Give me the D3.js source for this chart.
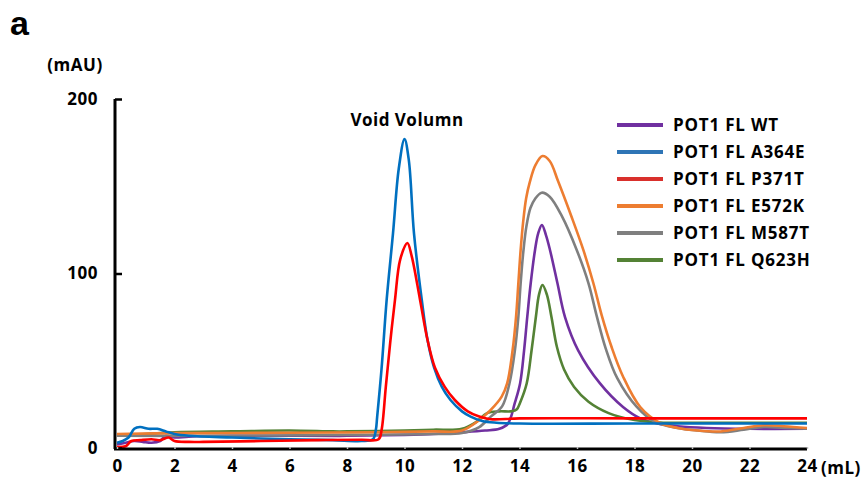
<!DOCTYPE html>
<html>
<head>
<meta charset="utf-8">
<script src="https://cdn.jsdelivr.net/npm/d3@7"></script>
<style>
  body { margin: 0; background: #fff; }
  svg { display: block; font-family: "Open Sans", Lato, sans-serif; font-weight: 700; }
</style>
</head>
<body>
<div id="chart"></div>
<script>
// series names + colours (legend order)
const seriesNames = ["POT1 FL WT", "POT1 FL A364E", "POT1 FL P371T", "POT1 FL E572K", "POT1 FL M587T", "POT1 FL Q623H"];
const seriesColors = ["#7030A0", "#0070C0", "#FF0000", "#ED7D31", "#7F7F7F", "#548235"];
const legendColors = ["#7030A0", "#2E75B6", "#D9302C", "#ED7D31", "#7F7F7F", "#548235"];

const xTicks = [0, 2, 4, 6, 8, 10, 12, 14, 16, 18, 20, 22, 24];
const yTicks = [0, 100, 200];

// [elution volume (mL), absorbance (mAU)]
const wt = [[0,2],[0.3,3],[0.6,4],[0.9,3.5],[1.2,3],[1.5,4],[1.7,7],[2,6],[2.5,6.5],[4,7],[6,7],[8,7],[10,7.5],[11,8],[12,9],[12.8,10],[13.3,11],[13.6,14],[13.84,26],[14.02,37],[14.16,56],[14.27,75.2],[14.39,94.4],[14.54,113.5],[14.65,123],[14.78,127.8],[14.92,122],[15.06,113.5],[15.32,94.4],[15.58,75.2],[16.04,56],[16.8,37],[17.6,23.5],[18.2,17],[18.8,14],[19.5,12.5],[20.5,11.5],[22,11],[24,11]];
const a364e = [[0,3],[0.2,4],[0.4,6],[0.6,11],[0.8,12],[1.1,11],[1.4,11],[1.7,9.5],[2,8],[2.5,7],[4,6],[6,5],[7.5,4.5],[8.5,4],[8.9,5],[9.0,10],[9.05,18],[9.2,45],[9.38,85],[9.6,123],[9.8,160],[10.0,177],[10.15,165],[10.33,123],[10.6,85],[10.8,62],[11.03,46],[11.3,35],[11.6,27.5],[12.0,21],[12.3,18],[12.7,15.5],[13.2,14.5],[14,14],[18,14],[24,14]];
const p371t = [[0,0.5],[0.3,1],[0.5,4],[0.8,4.5],[1.2,5],[1.5,4.5],[1.8,6],[2,4],[2.5,3.5],[3,3.5],[5,4],[7,4.5],[8.5,4.7],[9.1,5],[9.2,10],[9.35,35],[9.5,60],[9.67,85],[9.85,108],[10.1,117.5],[10.25,110],[10.54,85],[10.8,62],[11.06,46],[11.4,35],[11.75,27.5],[12.2,21],[12.6,18],[13.0,16.5],[14,17],[18,17],[24,17]];
const e572k = [[0,8],[2,8.5],[6,8.7],[9,9],[11,9.5],[12,10],[12.6,16],[13.0,21.8],[13.38,29.4],[13.57,37],[13.76,56],[13.88,75.2],[13.96,94.4],[14.04,113.5],[14.13,130],[14.23,143],[14.36,152.5],[14.55,162],[14.8,167.3],[15.05,164.5],[15.34,153],[15.81,132.5],[16.22,113.5],[16.57,94.4],[16.86,76],[17.2,58],[17.6,41],[18.2,23.5],[18.9,14.3],[19.5,11.5],[20.2,10],[21,9.5],[21.8,11.5],[22.5,13],[23.2,12.5],[24,11.5]];
const m587t = [[0,7],[3,7],[8,7.5],[11,8],[12,8.6],[12.6,12],[13.0,18],[13.4,24],[13.65,37],[13.84,56],[13.96,75.2],[14.04,94.4],[14.13,112],[14.24,127],[14.38,137.5],[14.55,143],[14.77,146.3],[15.05,144],[15.47,133],[15.99,113.5],[16.4,94.4],[16.68,76],[17.0,57],[17.4,40],[18.08,23.5],[18.7,15],[19.5,11.5],[20.2,10],[21,9],[21.8,10.5],[22.5,12],[23.2,11.5],[24,11]];
const q623h = [[0,7],[1,8],[2,9],[4,9.5],[6,10],[7.5,9.5],[8,9.5],[10,10],[11,10.5],[12,11],[12.5,15],[12.87,20],[13.3,21],[13.7,21],[13.9,22],[14.02,26],[14.25,37],[14.42,56],[14.57,75.2],[14.68,88],[14.8,93.4],[14.95,88],[15.11,75.2],[15.3,58],[15.55,45],[15.9,35],[16.4,26.5],[17.1,20],[18,16],[19,14.5],[20,14.5],[24,14.5]];

const seriesData = [wt, a364e, p371t, e572k, m587t, q623h];
// draw order: back to front
const drawOrder = [0, 5, 4, 3, 1, 2];

const svg = d3.select("#chart")
  .append("svg")
    .attr("width", 866)
    .attr("height", 484)
    .style("letter-spacing", "0.5px");

const x = d3.scaleLinear().domain([0, 24]).range([117, 807]);
const y = d3.scaleLinear().domain([0, 200]).range([448, 99]);

const line = d3.line()
  .x(d => x(d[0]))
  .y(d => y(d[1]))
  .curve(d3.curveCatmullRom.alpha(0.5));

// curves
svg.append("g")
  .selectAll("path")
  .data(drawOrder)
  .join("path")
    .attr("d", i => line(seriesData[i]))
    .attr("fill", "none")
    .attr("stroke", i => seriesColors[i])
    .attr("stroke-width", 2.6)
    .attr("stroke-linejoin", "round");

// y axis
const yAxis = svg.append("g")
  .attr("transform", "translate(115,0)")
  .call(d3.axisLeft(y).tickValues(yTicks).tickSize(-7).tickSizeOuter(0).tickPadding(17));
yAxis.select(".domain").attr("stroke-width", 3).attr("d", `M0,${y(200)}V449`);
yAxis.selectAll(".tick line").attr("stroke-width", 2.5);
yAxis.selectAll("text").attr("font-size", 17).attr("font-weight", 700).attr("fill", "#000")
  .attr("font-family", "'Open Sans', sans-serif");

// x axis
const xAxis = svg.append("g")
  .attr("transform", "translate(0,449)")
  .call(d3.axisBottom(x).tickValues(xTicks).tickSize(-2).tickSizeOuter(0).tickPadding(11));
xAxis.select(".domain").attr("stroke-width", 3).attr("d", "M114,0H807");
xAxis.selectAll(".tick line").attr("stroke", "#bbb").attr("stroke-width", 1.5);
xAxis.selectAll("text").attr("font-size", 17).attr("font-weight", 700).attr("fill", "#000")
  .attr("font-family", "'Open Sans', sans-serif");

// unit labels
svg.append("text")
  .attr("x", x(24) + 14)
  .attr("y", 474)
  .attr("font-size", 17)
  .text("(mL)");

svg.append("text")
  .attr("x", 75)
  .attr("y", 71)
  .attr("text-anchor", "middle")
  .attr("font-size", 17)
  .text("(mAU)");

svg.append("text")
  .attr("x", 10)
  .attr("y", 35)
  .attr("font-family", "'Liberation Sans', Arial, sans-serif")
  .attr("font-size", 34)
  .style("letter-spacing", "0px")
  .text("a");

svg.append("text")
  .attr("x", 407)
  .attr("y", 126)
  .attr("text-anchor", "middle")
  .attr("font-size", 17)
  .text("Void Volumn");

// legend
const legend = svg.append("g")
  .selectAll("g")
  .data(seriesNames)
  .join("g")
    .attr("transform", (d, i) => `translate(617,${125 + i * 27})`);

legend.append("line")
  .attr("x1", 0)
  .attr("x2", 46)
  .attr("stroke", (d, i) => legendColors[i])
  .attr("stroke-width", 4);

legend.append("text")
  .attr("x", 56)
  .attr("dy", "0.35em")
  .attr("font-size", 17)
  .style("letter-spacing", "0.8px")
  .text(d => d);
</script>
</body>
</html>
